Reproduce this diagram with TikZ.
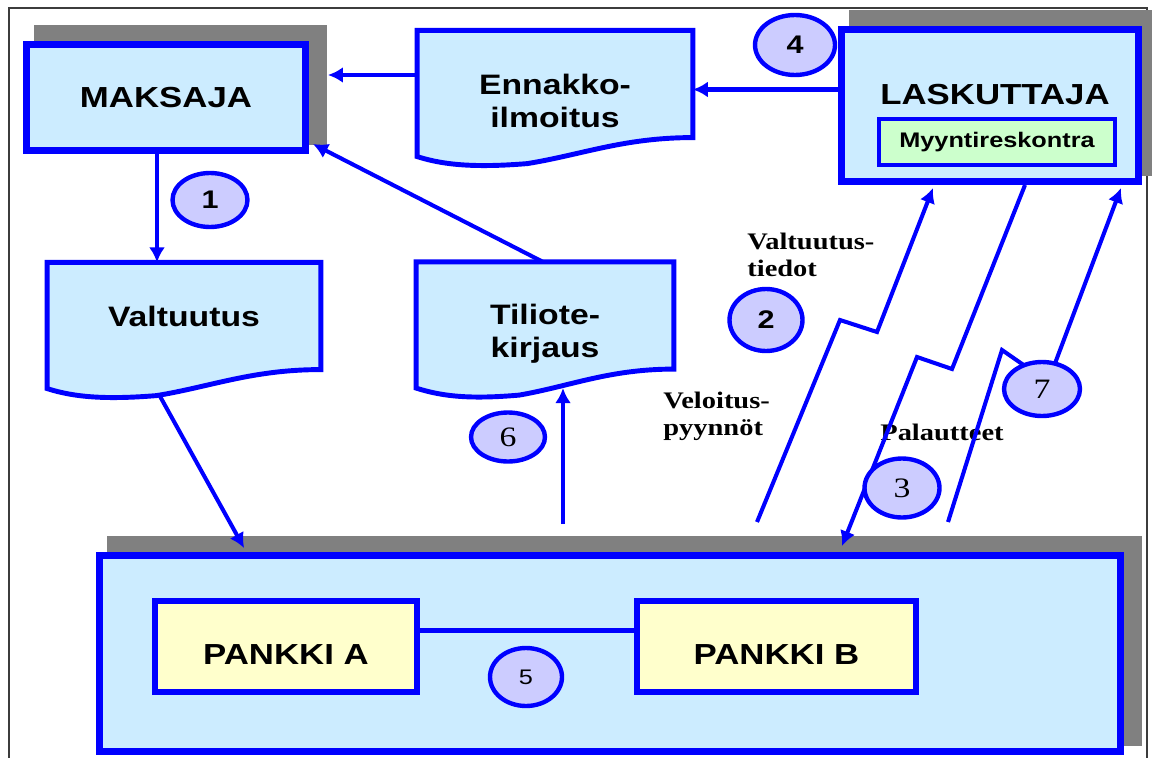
\documentclass[tikz,border=0pt]{standalone}
\usepackage{fontspec}
\setmainfont{Liberation Sans}[FakeStretch=1.2]
\newfontfamily\serifface{Liberation Serif}[FakeStretch=1.2]
\usepackage{tikz}
\usetikzlibrary{positioning, shapes.geometric, arrows.meta, calc, backgrounds}
\definecolor{pure_blue}{RGB}{0,0,255}
\definecolor{sky_fill}{RGB}{204,236,255}
\definecolor{lilac_fill}{RGB}{204,204,255}
\definecolor{cream_fill}{RGB}{255,255,204}
\definecolor{mint_fill}{RGB}{204,255,204}
\definecolor{shadow_gray}{RGB}{128,128,128}
\definecolor{frame_gray}{RGB}{60,60,60}
\tikzstyle{party} = [rectangle, draw=pure_blue, fill=sky_fill, line width=4pt, inner sep=0pt,
                    font=\bfseries\fontsize{16.5}{19}\selectfont]
\tikzstyle{bank} = [rectangle, draw=pure_blue, fill=cream_fill, line width=3.4pt, minimum height=1.82cm,
                    text height=21pt, font=\bfseries\fontsize{16.5}{19}\selectfont]
\tikzstyle{ledger} = [rectangle, draw=pure_blue, fill=mint_fill, line width=2.3pt, font=\bfseries\fontsize{12}{14}\selectfont]
\tikzstyle{doc} = [rectangle, inner sep=0pt, minimum height=2.13cm]
\tikzstyle{doctext} = [align=center, font=\bfseries\fontsize{16}{19}\selectfont]
\tikzstyle{stage} = [ellipse, draw=pure_blue, fill=lilac_fill, line width=2.5pt, inner sep=0pt,
                    font=\bfseries\fontsize{14.5}{16}\selectfont]
\tikzstyle{stageserif} = [stage, font=\serifface\fontsize{16}{17}\selectfont]
\tikzstyle{flowlabel} = [align=left, inner sep=0pt, font=\serifface\bfseries\fontsize{13.5}{15.5}\selectfont]
\tikzstyle{arrow} = [line width=2.3pt, -{Latex[length=8.5pt,width=9pt]}, pure_blue]
\tikzstyle{link} = [line width=2.3pt, pure_blue]

\newcommand{\boxshadow}[1]{\fill[shadow_gray] ($(#1.north west)+(11,-16)$) rectangle ($(#1.south east)+(18,-9)$);}
\newcommand{\docoutline}[1]{%
  \filldraw[draw=pure_blue, fill=sky_fill, line width=2.8pt]
    (#1.south east) -- (#1.north east) -- (#1.north west) -- ($(#1.south west)+(0,19)$)
    .. controls ($(#1.south west)+(28,28)$) and ($(#1.south west)!0.22!(#1.south east)+(0,30)$)
    .. ($(#1.south west)!0.4!(#1.south east)+(0,26)$)
    .. controls ($(#1.south west)!0.6!(#1.south east)+(0,17)$) and ($(#1.south west)!0.75!(#1.south east)$)
    .. (#1.south east) -- cycle;}

\begin{document}
\begin{tikzpicture}[x=0.02cm, y=-0.02cm]

    \useasboundingbox (0,0) rectangle (1152,757);

    \node[party, minimum width=5.58cm, minimum height=2.12cm] (maksaja) at (166,97.5) {MAKSAJA};
    \node[party, minimum width=5.94cm, minimum height=3.04cm] (laskuttaja) at (990,105.5) {};
    \node[font=\bfseries\fontsize{16.5}{19}\selectfont] (laskuttajanimi) at (995,95) {LASKUTTAJA};
    \node[ledger, minimum width=4.72cm, minimum height=0.92cm] (myynti) at (997,142) {Myyntireskontra};
    \node[party, minimum width=20.42cm, minimum height=3.92cm] (pankit) at (610,653.5) {};
    \node[bank, minimum width=5.24cm] (pankkia) at (286,646.5) {PANKKI A};
    \node[bank, minimum width=5.58cm] (pankkib) at (776.5,646.5) {PANKKI B};

    \begin{scope}[on background layer]
        \draw[frame_gray, line width=0.9pt] (9,8) rectangle (1147,790);
        \boxshadow{maksaja}
        \boxshadow{laskuttaja}
        \boxshadow{pankit}
    \end{scope}

    \node[doc, minimum width=5.46cm] (valtuutus) at (184,316) {};
    \node[doc, minimum width=5.5cm] (ennakko) at (555,84) {};
    \node[doc, minimum width=5.14cm] (tiliote) at (545,315.5) {};
    \docoutline{valtuutus}
    \docoutline{ennakko}
    \docoutline{tiliote}
    \node[doctext] (valtuutusteksti) at (184,316) {Valtuutus};
    \node[doctext] (ennakkoteksti) at (555,101) {Ennakko-\\ilmoitus};
    \node[doctext] (tilioteteksti) at (545,334) {Tiliote-\\kirjaus};

    \node[flowlabel, anchor=west] (valtuutustiedot) at (747,255) {Valtuutus-\\tiedot};
    \node[flowlabel, anchor=west] (veloituspyynnot) at (663,416) {Veloitus-\\pyynnöt};
    \node[flowlabel] (palautteet) at (942,432) {Palautteet};

    \draw[arrow] ([shift={(-9,0)}]maksaja.south) -- ($(maksaja.south |- valtuutus.north)+(-9,0)$);
    \draw[arrow] ([shift={(0,-9)}]ennakko.west) -- ($(maksaja.east |- ennakko.west)+(19,-9)$);
    \draw[arrow] ([shift={(0,-16)}]laskuttaja.west) -- ($(ennakko.east |- laskuttaja.west)+(0,-16)$);
    \draw[arrow] ([shift={(-2,0)}]tiliote.north) -- ([shift={(4,-10)}]maksaja.south east);
    \draw[arrow] ([shift={(113,27)}]valtuutus.south west) -- ([shift={(148,-4)}]pankit.north west);
    \draw[arrow] ([shift={(-47,-28)}]pankit.north) -- ([shift={(18,19)}]tiliote.south);
    \draw[link] ([shift={(0,-16)}]pankkia.east) -- ([shift={(0,-16)}]pankkib.west);

    \draw[arrow] ([shift={(147,-30)}]pankit.north) -- ++(83,-202) -- ++(37,12) -- ([shift={(-57,3)}]laskuttaja.south);
    \draw[arrow] ([shift={(35,0)}]laskuttaja.south) -- ++(-73,184) -- ++(-35,-12) -- ([shift={(232,-6)}]pankit.north);
    \draw[arrow] ([shift={(338,-30)}]pankit.north) -- ++(54,-172) -- ++(46,32) -- ([shift={(131,3)}]laskuttaja.south);

    \node[stage, minimum width=1.5cm, minimum height=1.08cm] (vaihe1) at (210,200) {1};
    \node[stage, minimum width=1.46cm, minimum height=1.24cm] (vaihe2) at (766,320) {2};
    \node[stageserif, minimum width=1.5cm, minimum height=1.18cm] (vaihe3) at (902,488) {3};
    \node[stage, minimum width=1.6cm, minimum height=1.2cm] (vaihe4) at (795,45) {4};
    \node[stage, minimum width=1.44cm, minimum height=1.16cm, font=\fontsize{12}{14}\selectfont] (vaihe5) at (526,677) {5};
    \node[stageserif, minimum width=1.48cm, minimum height=0.98cm] (vaihe6) at (508,437) {6};
    \node[stageserif, minimum width=1.52cm, minimum height=1.08cm] (vaihe7) at (1042,389) {7};

\end{tikzpicture}
\end{document}
